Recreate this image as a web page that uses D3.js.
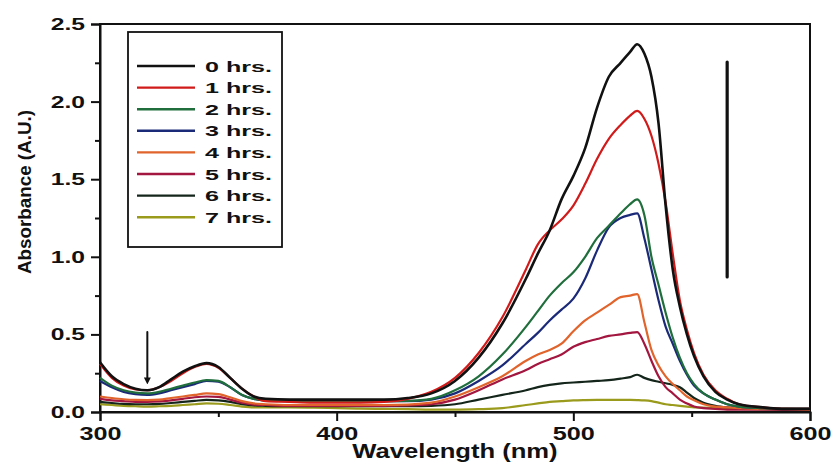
<!DOCTYPE html>
<html>
<head>
<meta charset="utf-8">
<script src="https://cdn.jsdelivr.net/npm/d3@7"></script>
<style>
  body { margin: 0; background: #fff; }
  text { font-family: "Liberation Sans", Arial, sans-serif; font-weight: bold; fill: #111; }
</style>
</head>
<body>
<div id="chart-container"></div>
<script>
const wavelengths = [300,305,310,315,320,325,330,335,340,345,350,355,360,365,370,
  380,390,400,410,420,430,440,450,460,470,480,
  485,490,495,500,505,510,515,520,524,527,
  530,533,536,539,542,545,548,551,555,560,565,570,580,590,600]

const abs0h = [.32,.23,.18,.15,.14,.16,.21,.26,.295,.315,.29,.22,.15,.10,.085,
  .08,.08,.08,.08,.08,.09,.12,.20,.35,.57,.86,
  1.02,1.17,1.37,1.52,1.70,1.96,2.16,2.25,2.32,2.37,
  2.31,2.16,1.86,1.33,.92,.68,.50,.36,.23,.13,.08,.05,.03,.02,.02]
const abs1h = [.31,.22,.17,.145,.14,.16,.20,.25,.29,.31,.285,.22,.15,.10,.07,
  .065,.06,.06,.06,.065,.085,.13,.22,.38,.61,.92,
  1.08,1.17,1.24,1.33,1.47,1.63,1.76,1.85,1.91,1.94,
  1.89,1.78,1.60,1.35,1.02,.72,.53,.38,.24,.14,.085,.05,.03,.02,.02]
const abs2h = [.22,.17,.14,.125,.12,.13,.15,.17,.19,.205,.20,.16,.11,.085,.075,
  .07,.07,.07,.07,.07,.072,.085,.14,.23,.37,.55,
  .65,.75,.83,.90,1.00,1.12,1.20,1.28,1.34,1.37,
  1.27,1.00,.82,.64,.48,.35,.25,.18,.12,.08,.05,.035,.025,.02,.02]
const abs3h = [.20,.16,.13,.115,.11,.12,.14,.16,.18,.20,.195,.16,.11,.085,.075,
  .07,.07,.07,.07,.07,.07,.08,.12,.20,.30,.44,
  .51,.59,.66,.73,.86,1.04,1.19,1.25,1.27,1.28,
  1.12,.92,.72,.55,.44,.33,.24,.17,.12,.08,.05,.035,.025,.02,.02]
const abs4h = [.10,.09,.082,.078,.077,.08,.09,.10,.11,.12,.115,.095,.07,.055,.05,
  .045,.045,.045,.045,.045,.048,.06,.10,.16,.23,.33,
  .37,.40,.44,.52,.59,.64,.69,.74,.75,.76,
  .58,.40,.30,.23,.18,.14,.10,.075,.05,.035,.03,.025,.02,.02,.015]
const abs5h = [.085,.075,.07,.065,.065,.068,.075,.085,.095,.10,.098,.08,.06,.048,.045,
  .04,.04,.04,.04,.04,.042,.05,.08,.14,.21,.27,
  .31,.34,.37,.42,.45,.47,.49,.50,.51,.515,
  .44,.33,.23,.16,.12,.08,.055,.035,.025,.02,.015,.015,.015,.015,.015]
const abs6h = [.065,.058,.052,.05,.05,.052,.058,.065,.072,.078,.075,.065,.05,.042,.04,
  .038,.038,.038,.038,.038,.038,.04,.05,.08,.11,.14,
  .16,.175,.185,.19,.195,.20,.205,.215,.225,.24,
  .22,.205,.195,.185,.175,.16,.125,.09,.06,.04,.03,.025,.02,.015,.015]
const abs7h = [.05,.045,.04,.037,.035,.037,.04,.045,.05,.055,.053,.045,.035,.03,.03,
  .03,.028,.025,.022,.02,.018,.015,.015,.018,.025,.045,
  .055,.065,.07,.075,.077,.078,.078,.078,.078,.077,
  .075,.07,.06,.05,.045,.04,.035,.03,.028,.025,.022,.02,.017,.015,.015]

const seriesNames = ['0 hrs.', '1 hrs.', '2 hrs.', '3 hrs.', '4 hrs.', '5 hrs.', '6 hrs.', '7 hrs.']
const seriesValues = [abs0h, abs1h, abs2h, abs3h, abs4h, abs5h, abs6h, abs7h]
const seriesColors = ['#111111', '#d11a1a', '#1f6e3c', '#1b2a78', '#e0642c', '#a3163f', '#14261b', '#9a9a1c']

const xTicks = [300, 400, 500, 600]
const xMinorTicks = [350, 450, 550]
const yTicks = [0, 0.5, 1.0, 1.5, 2.0, 2.5]
const yMinorTicks = [0.25, 0.75, 1.25, 1.75, 2.25]

// arrows: [wavelength, absorbance top, absorbance bottom]
const arrows = [[320, 0.515, 0.20], [565, 2.255, 0.87]]

const width = 834
const height = 462
const marginTop = 24
const marginRight = 24
const marginBottom = 50
const marginLeft = 100

// stretch text horizontally like the wide bold font of the original
function widen (sel, k) {
  sel.each(function () {
    const w = this.getComputedTextLength()
    d3.select(this).attr('textLength', w * k).attr('lengthAdjust', 'spacingAndGlyphs')
  })
}

const svg = d3.select('#chart-container')
  .append('svg')
  .attr('width', width)
  .attr('height', height)

const xScale = d3.scaleLinear()
  .domain([300, 600])
  .range([marginLeft, width - marginRight])

const yScale = d3.scaleLinear()
  .domain([0, 2.5])
  .range([height - marginBottom, marginTop])

// frame
svg.append('rect')
  .attr('x', marginLeft)
  .attr('y', marginTop)
  .attr('width', width - marginLeft - marginRight)
  .attr('height', height - marginTop - marginBottom)
  .attr('fill', 'none')
  .attr('stroke', '#111')
  .attr('stroke-width', 2)

// minor ticks
svg.append('g')
  .attr('transform', 'translate(0,' + (height - marginBottom) + ')')
  .call(d3.axisBottom(xScale).tickValues(xMinorTicks).tickSize(5).tickFormat(''))
  .call(g => g.select('.domain').remove())
  .call(g => g.selectAll('line').attr('stroke', '#111').attr('stroke-width', 2))

svg.append('g')
  .attr('transform', 'translate(' + marginLeft + ',0)')
  .call(d3.axisLeft(yScale).tickValues(yMinorTicks).tickSize(5).tickFormat(''))
  .call(g => g.select('.domain').remove())
  .call(g => g.selectAll('line').attr('stroke', '#111').attr('stroke-width', 2))

// major axes
const xAxisG = svg.append('g')
  .attr('transform', 'translate(0,' + (height - marginBottom) + ')')
  .call(d3.axisBottom(xScale).tickValues(xTicks).tickSize(9).tickPadding(6).tickFormat(d3.format('d')))
xAxisG.select('.domain').attr('stroke', '#111').attr('stroke-width', 2)
xAxisG.selectAll('line').attr('stroke', '#111').attr('stroke-width', 2)
xAxisG.selectAll('text')
  .style('font-size', '18px')
  .style('font-weight', 'bold')
  .attr('fill', '#111')
  .call(widen, 1.4)

const yAxisG = svg.append('g')
  .attr('transform', 'translate(' + marginLeft + ',0)')
  .call(d3.axisLeft(yScale).tickValues(yTicks).tickSize(9).tickPadding(6).tickFormat(d3.format('.1f')))
yAxisG.select('.domain').attr('stroke', '#111').attr('stroke-width', 2)
yAxisG.selectAll('line').attr('stroke', '#111').attr('stroke-width', 2)
yAxisG.selectAll('text')
  .style('font-size', '17px')
  .style('font-weight', 'bold')
  .attr('fill', '#111')
  .call(widen, 1.45)

// axis titles
svg.append('text')
  .attr('x', (marginLeft + width - marginRight) / 2)
  .attr('y', 458)
  .attr('text-anchor', 'middle')
  .style('font-size', '20px')
  .text('Wavelength (nm)')
  .call(widen, 1.28)

svg.append('text')
  .attr('transform', 'translate(31,' + 192 + ') rotate(-90)')
  .attr('text-anchor', 'middle')
  .style('font-size', '19px')
  .text('Absorbance (A.U.)')
  .attr('textLength', 164)
  .attr('lengthAdjust', 'spacingAndGlyphs')

// spectra
const line = d3.line()
  .x((d, i) => xScale(wavelengths[i]))
  .y(d => yScale(d))
  .curve(d3.curveMonotoneX)

svg.append('g')
  .selectAll('path')
  .data(seriesValues.map((v, i) => ({ values: v, color: seriesColors[i], idx: i })).reverse())
  .enter()
  .append('path')
  .attr('d', d => line(d.values))
  .attr('fill', 'none')
  .attr('stroke', d => d.color)
  .attr('stroke-width', d => d.idx === 0 ? 2.6 : 2.2)
  .attr('stroke-linejoin', 'round')

// arrows
svg.append('defs').append('marker')
  .attr('id', 'head')
  .attr('viewBox', '0 0 10 10')
  .attr('refX', 5)
  .attr('refY', 5)
  .attr('markerWidth', 3.5)
  .attr('markerHeight', 3.5)
  .attr('orient', 'auto')
  .append('path')
  .attr('d', 'M0,0 L10,5 L0,10 Z')
  .attr('fill', '#111')

svg.append('g')
  .selectAll('line')
  .data(arrows)
  .enter()
  .append('line')
  .attr('x1', d => xScale(d[0]))
  .attr('x2', d => xScale(d[0]))
  .attr('y1', d => yScale(d[1]))
  .attr('y2', d => yScale(d[2]))
  .attr('stroke', '#111')
  .attr('stroke-width', (d, i) => i === 0 ? 2 : 3.2)
  .attr('stroke-linecap', 'round')
  .attr('marker-end', (d, i) => i === 0 ? 'url(#head)' : null)

// legend
const legend = svg.append('g')
legend.append('rect')
  .attr('x', 128)
  .attr('y', 32)
  .attr('width', 154)
  .attr('height', 215)
  .attr('fill', '#fff')
  .attr('stroke', '#111')
  .attr('stroke-width', 1.8)

const rows = legend.selectAll('g.row')
  .data(seriesNames)
  .enter()
  .append('g')
  .attr('class', 'row')
  .attr('transform', (d, i) => 'translate(0,' + (66 + i * 21.6) + ')')

rows.append('line')
  .attr('x1', 137)
  .attr('x2', 195)
  .attr('stroke', (d, i) => seriesColors[i])
  .attr('stroke-width', 2.4)

rows.append('text')
  .attr('x', 205)
  .attr('dy', '0.36em')
  .style('font-size', '15.5px')
  .text(d => d)
  .call(widen, 1.62)
</script>
</body>
</html>
